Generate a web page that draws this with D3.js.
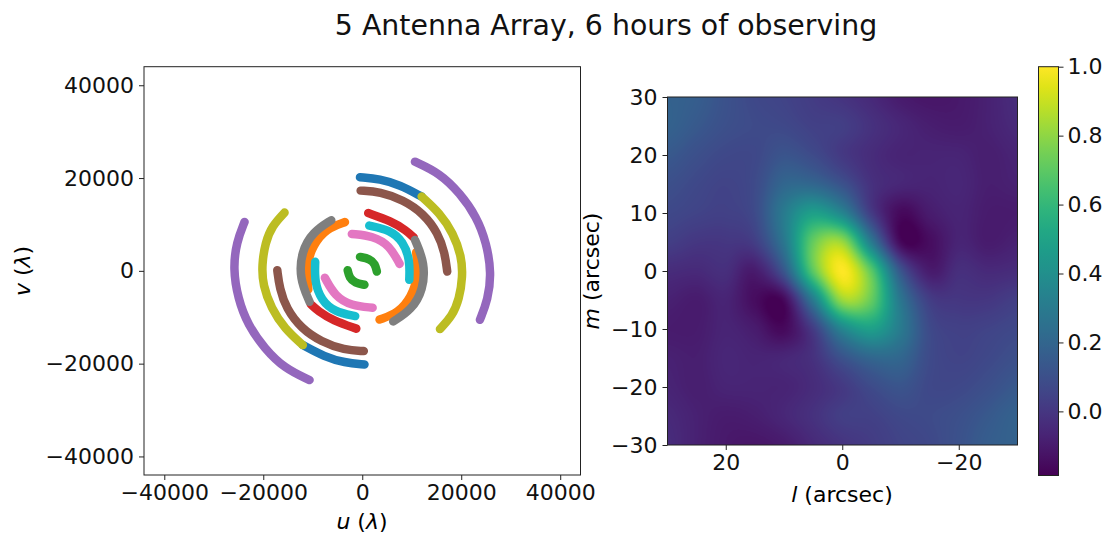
<!DOCTYPE html>
<html>
<head>
<meta charset="utf-8">
<script src="https://cdn.jsdelivr.net/npm/d3@7"></script>
<style>
  body { margin: 0; background: #fff; }
  svg { font-family: "DejaVu Sans", sans-serif; }
</style>
</head>
<body>
<svg id="fig" width="1105" height="533"></svg>
<script>
// uv tracks, one per baseline, (u, v) in wavelengths; each is also drawn at (-u, -v)
const trackBlue = [[-460, 20170], [3580, 19810], [7620, 18520], [12000, 16000]];
const trackOrange = [[10900, 4000], [11310, -1220], [9970, -5530], [7270, -9110], [3500, -10500]];
const trackGreen = [[-450, 3000], [1500, 2600], [2600, 1500], [2950, -150]];
const trackRed = [[1200, 12450], [5900, 10700], [8900, 8700], [10400, 7200]];
const trackPurple = [[10650, 23530], [15700, 21030], [19740, 16730], [23110, 11690], [25130, 5960], [26100, -500], [25400, -6200], [23780, -10550]];
const trackBrown = [[-320, 17290], [3580, 17080], [8280, 15290], [12320, 12420], [15350, 8120], [16700, 3810], [17170, -150]];
const trackPink = [[-2100, 7950], [2200, 7500], [5500, 5500], [7550, 1500]];
const trackGray = [[10650, 6670], [12670, 1650], [12330, -4090], [9970, -8400], [6260, -10910]];
const trackOlive = [[12000, 16000], [15700, 12420], [18380, 8120], [20080, 3080], [20300, -1200], [19600, -6100], [18200, -9700], [15700, -12550]];
const trackCyan = [[1420, 9750], [5600, 8830], [8280, 6310], [9640, 2370], [9500, -1940]];

const tracks = [trackBlue, trackOrange, trackGreen, trackRed, trackPurple,
                trackBrown, trackPink, trackGray, trackOlive, trackCyan];
const trackColors = ['#1f77b4', '#ff7f0e', '#2ca02c', '#d62728', '#9467bd',
                     '#8c564b', '#e377c2', '#7f7f7f', '#bcbd22', '#17becf'];

const beamL = [30, 25, 20, 15, 10, 5, 0, -5, -10, -15, -20, -25, -30];
const beamM = [30, 25, 20, 15, 10, 5, 0, -5, -10, -15, -20, -25, -30];
const beam = [
  [0.18, 0.16, 0.11, 0.07, 0.05, 0.02, -0.01, -0.05, -0.10, -0.12, -0.11, -0.08, -0.04],
  [0.18, 0.14, 0.10, 0.08, 0.07, 0.04, 0.03, -0.02, -0.06, -0.09, -0.10, -0.08, -0.05],
  [0.14, 0.10, 0.07, 0.07, 0.12, 0.08, 0.01, -0.04, -0.07, -0.07, -0.07, -0.09, -0.07],
  [0.10, 0.07, 0.05, 0.08, 0.20, 0.20, 0.11, -0.02, -0.06, -0.07, -0.06, -0.09, -0.08],
  [0.07, 0.05, 0.04, 0.08, 0.30, 0.48, 0.35, 0.02, -0.16, -0.10, -0.07, -0.10, -0.10],
  [0.03, 0.00, 0.00, 0.03, 0.28, 0.72, 0.82, 0.30, -0.16, -0.15, -0.07, -0.10, -0.08],
  [-0.04, -0.05, -0.03, -0.10, 0.13, 0.70, 1.00, 0.70, 0.13, -0.10, -0.03, -0.05, -0.04],
  [-0.08, -0.10, -0.07, -0.15, -0.16, 0.30, 0.82, 0.72, 0.28, 0.03, 0.00, 0.00, 0.03],
  [-0.10, -0.10, -0.07, -0.10, -0.16, 0.02, 0.35, 0.48, 0.30, 0.08, 0.04, 0.05, 0.07],
  [-0.08, -0.09, -0.06, -0.07, -0.06, -0.02, 0.11, 0.20, 0.20, 0.08, 0.05, 0.07, 0.10],
  [-0.07, -0.09, -0.07, -0.07, -0.07, -0.04, 0.01, 0.08, 0.12, 0.07, 0.07, 0.10, 0.14],
  [-0.05, -0.08, -0.10, -0.09, -0.06, -0.02, 0.03, 0.04, 0.07, 0.08, 0.10, 0.14, 0.18],
  [-0.04, -0.08, -0.11, -0.12, -0.10, -0.05, -0.01, 0.02, 0.05, 0.07, 0.11, 0.16, 0.18]
];

const uvTicks = [-40000, -20000, 0, 20000, 40000];
const lTicks = [20, 0, -20];
const mTicks = [30, 20, 10, 0, -10, -20, -30];
const cbTicks = [0, 0.2, 0.4, 0.6, 0.8, 1.0];
const cbRange = [-0.186, 1.0];

const svg = d3.select('#fig');
const fontSize = 22;

// ---- left panel: uv coverage
const uScale = d3.scaleLinear().domain([-44100, 44100]).range([144, 580.5]);
const vScale = d3.scaleLinear().domain([-44000, 44000]).range([475, 66.7]);

const line = d3.line()
  .x(d => uScale(d[0]))
  .y(d => vScale(d[1]))
  .curve(d3.curveBasis);

const gTracks = svg.append('g');
tracks.forEach(function (t, k) {
  [t, t.map(d => [-d[0], -d[1]])].forEach(function (pts) {
    gTracks.append('path')
      .attr('d', line(pts))
      .attr('fill', 'none')
      .attr('stroke', trackColors[k])
      .attr('stroke-width', 8.5)
      .attr('stroke-linecap', 'round');
  });
});

function styleAxis(g) {
  g.select('.domain').remove();
  g.selectAll('.tick line').attr('stroke', '#222').attr('stroke-width', 1);
  g.selectAll('.tick text').attr('fill', '#111').style('font-size', fontSize + 'px')
    .style('font-family', '"DejaVu Sans", sans-serif');
}

svg.append('g')
  .attr('transform', 'translate(0,475)')
  .call(d3.axisBottom(uScale).tickValues(uvTicks).tickFormat(d3.format('d')).tickSize(5).tickPadding(4))
  .call(styleAxis);
svg.append('g')
  .attr('transform', 'translate(144,0)')
  .call(d3.axisLeft(vScale).tickValues(uvTicks).tickFormat(d3.format('d')).tickSize(5).tickPadding(5))
  .call(styleAxis);

svg.append('rect')
  .attr('x', 144).attr('y', 66.7)
  .attr('width', 436.5).attr('height', 408.3)
  .attr('fill', 'none').attr('stroke', '#222').attr('stroke-width', 1);

const uLabel = svg.append('text')
  .attr('x', 362).attr('y', 529)
  .attr('text-anchor', 'middle')
  .style('font-size', fontSize + 'px');
uLabel.append('tspan').style('font-style', 'italic').text('u');
uLabel.append('tspan').text(' (');
uLabel.append('tspan').style('font-style', 'italic').text('λ');
uLabel.append('tspan').text(')');

const vLabel = svg.append('text')
  .attr('transform', 'translate(30,271) rotate(-90)')
  .attr('text-anchor', 'middle')
  .style('font-size', fontSize + 'px');
vLabel.append('tspan').style('font-style', 'italic').text('v');
vLabel.append('tspan').text(' (');
vLabel.append('tspan').style('font-style', 'italic').text('λ');
vLabel.append('tspan').text(')');

// ---- right panel: dirty beam
const lScale = d3.scaleLinear().domain([30, -30]).range([667.5, 1017]);
const mScale = d3.scaleLinear().domain([-30, 30]).range([445, 97]);
const color = d3.scaleSequential(d3.interpolateViridis).domain(cbRange);

function cubic(p0, p1, p2, p3, t) {
  return p1 + 0.5 * t * (p2 - p0 + t * (2 * p0 - 5 * p1 + 4 * p2 - p3 + t * (3 * (p1 - p2) + p3 - p0)));
}
function sampleBeam(gx, gy) {
  const n = beam.length - 1;
  const c = i => Math.max(0, Math.min(n, i));
  const ix = Math.min(n - 1, Math.floor(gx)), iy = Math.min(n - 1, Math.floor(gy));
  const tx = gx - ix, ty = gy - iy;
  const rows = [-1, 0, 1, 2].map(function (di) {
    const r = beam[c(iy + di)];
    return cubic(r[c(ix - 1)], r[c(ix)], r[c(ix + 1)], r[c(ix + 2)], tx);
  });
  return cubic(rows[0], rows[1], rows[2], rows[3], ty);
}

const imgW = Math.round(lScale.range()[1] - lScale.range()[0]);
const imgH = Math.round(mScale.range()[0] - mScale.range()[1]);
const canvas = document.createElement('canvas');
canvas.width = imgW;
canvas.height = imgH;
const ctx = canvas.getContext('2d');
const imgData = ctx.createImageData(imgW, imgH);
const lut = d3.range(256).map(i => d3.rgb(d3.interpolateViridis(i / 255)));
const lStep = beamL[0] - beamL[1];
const mStep = beamM[0] - beamM[1];
for (let py = 0; py < imgH; py++) {
  const m = mScale.invert(mScale.range()[1] + py + 0.5);
  const gy = Math.max(0, Math.min(beam.length - 1, (beamM[0] - m) / mStep));
  for (let px = 0; px < imgW; px++) {
    const l = lScale.invert(lScale.range()[0] + px + 0.5);
    const gx = Math.max(0, Math.min(beam.length - 1, (beamL[0] - l) / lStep));
    const v = sampleBeam(gx, gy);
    let t = (v - cbRange[0]) / (cbRange[1] - cbRange[0]);
    t = Math.max(0, Math.min(1, t));
    const col = lut[Math.round(t * 255)];
    const k = (py * imgW + px) * 4;
    imgData.data[k] = col.r;
    imgData.data[k + 1] = col.g;
    imgData.data[k + 2] = col.b;
    imgData.data[k + 3] = 255;
  }
}
ctx.putImageData(imgData, 0, 0);

svg.append('image')
  .attr('x', lScale.range()[0]).attr('y', mScale.range()[1])
  .attr('width', imgW).attr('height', imgH)
  .attr('preserveAspectRatio', 'none')
  .attr('href', canvas.toDataURL());

svg.append('g')
  .attr('transform', 'translate(0,445)')
  .call(d3.axisBottom(lScale).tickValues(lTicks).tickFormat(d3.format('d')).tickSize(5).tickPadding(4))
  .call(styleAxis);
svg.append('g')
  .attr('transform', 'translate(667.5,0)')
  .call(d3.axisLeft(mScale).tickValues(mTicks).tickFormat(d3.format('d')).tickSize(5).tickPadding(5))
  .call(styleAxis);

svg.append('rect')
  .attr('x', 667.5).attr('y', 97)
  .attr('width', imgW).attr('height', imgH)
  .attr('fill', 'none').attr('stroke', '#222').attr('stroke-width', 1);

const lLabel = svg.append('text')
  .attr('x', 842).attr('y', 502)
  .attr('text-anchor', 'middle')
  .style('font-size', fontSize + 'px');
lLabel.append('tspan').style('font-style', 'italic').text('l');
lLabel.append('tspan').text(' (arcsec)');

const mLabel = svg.append('text')
  .attr('transform', 'translate(599,271) rotate(-90)')
  .attr('text-anchor', 'middle')
  .style('font-size', fontSize + 'px');
mLabel.append('tspan').style('font-style', 'italic').text('m');
mLabel.append('tspan').text(' (arcsec)');

// ---- colorbar
const cbScale = d3.scaleLinear().domain(cbRange).range([475.5, 66.7]);
const grad = svg.append('defs').append('linearGradient')
  .attr('id', 'cbgrad')
  .attr('x1', 0).attr('y1', 1).attr('x2', 0).attr('y2', 0);
d3.range(0, 1.0001, 0.05).forEach(function (t) {
  grad.append('stop')
    .attr('offset', t)
    .attr('stop-color', color(cbRange[0] + t * (cbRange[1] - cbRange[0])));
});
svg.append('rect')
  .attr('x', 1038.5).attr('y', 66.7)
  .attr('width', 20).attr('height', 475.5 - 66.7)
  .attr('fill', 'url(#cbgrad)')
  .attr('stroke', '#222').attr('stroke-width', 1);
svg.append('g')
  .attr('transform', 'translate(1058.5,0)')
  .call(d3.axisRight(cbScale).tickValues(cbTicks).tickFormat(d3.format('.1f')).tickSize(5).tickPadding(4))
  .call(styleAxis);

// ---- title
svg.append('text')
  .attr('x', 606).attr('y', 35)
  .attr('text-anchor', 'middle')
  .style('font-size', '28.4px')
  .attr('fill', '#111')
  .text('5 Antenna Array, 6 hours of observing');
</script>
</body>
</html>
